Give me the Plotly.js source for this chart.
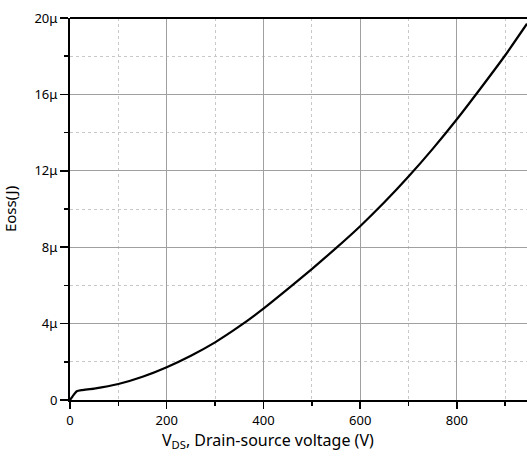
<!DOCTYPE html>
<html>
<head>
<meta charset="utf-8">
<script src="https://cdn.plot.ly/plotly-3.0.1.min.js"></script>
<style>html,body{margin:0;padding:0;background:#fff;}#chart{width:527px;height:456px;}</style>
</head>
<body>
<div id="chart"></div>
<script>
// Drain-source voltage (V)
const vds = [0, 5, 14, 25, 50, 100, 150, 200, 250, 300, 350, 400, 450, 500, 550, 600, 650, 700, 750, 800, 850, 900, 945];
// Eoss in microjoules
const eossMicro = [0, 0.18, 0.46, 0.52, 0.6, 0.84, 1.22, 1.72, 2.32, 3.02, 3.85, 4.78, 5.8, 6.85, 7.95, 9.1, 10.35, 11.7, 13.15, 14.7, 16.35, 18.05, 19.7];
const yTickVals = [0, 4e-6, 8e-6, 12e-6, 16e-6, 20e-6];
const yTickText = ["0", "4μ", "8μ", "12μ", "16μ", "20μ"];
const xTickVals = [0, 200, 400, 600, 800];
const xTickText = ["0", "200", "400", "600", "800"];

const eoss = eossMicro.map(v => v * 1e-6);
const font = "Noto Sans, Open Sans, sans-serif";

Plotly.newPlot("chart", [{
  x: vds, y: eoss, type: "scatter", mode: "lines",
  line: {color: "#000", width: 2.2, shape: "spline", smoothing: 0.5},
  hoverinfo: "skip"
}], {
  width: 527, height: 456,
  margin: {l: 70, r: 0, t: 18, b: 56},
  paper_bgcolor: "#fff", plot_bgcolor: "#fff",
  showlegend: false,
  font: {family: font, color: "#000", size: 13},
  xaxis: {
    range: [0, 945], tickvals: xTickVals, ticktext: xTickText,
    showline: true, linecolor: "#000", linewidth: 2,
    ticks: "outside", ticklen: 7, tickwidth: 1.5, tickcolor: "#000",
    showgrid: true, gridcolor: "#a0a0a0", gridwidth: 1,
    zeroline: false, tickfont: {size: 13, color: "#000"},
    minor: {dtick: 100, tick0: 0, ticks: "outside", ticklen: 4, tickwidth: 1.5, tickcolor: "#000",
            showgrid: true, gridcolor: "#c8c8c8", gridwidth: 1, griddash: "dot"}
  },
  yaxis: {
    range: [0, 20e-6], tickvals: yTickVals, ticktext: yTickText,
    showline: true, linecolor: "#000", linewidth: 2,
    ticks: "outside", ticklen: 8, tickwidth: 1.5, tickcolor: "#000",
    showgrid: true, gridcolor: "#a0a0a0", gridwidth: 1,
    zeroline: false, tickfont: {size: 13, color: "#000"},
    minor: {dtick: 2e-6, tick0: 0, ticks: "outside", ticklen: 4, tickwidth: 1.5, tickcolor: "#000",
            showgrid: true, gridcolor: "#c8c8c8", gridwidth: 1, griddash: "dot"},
    title: {text: "Eoss(J)", font: {size: 15, color: "#000"}, standoff: 14}
  },
  shapes: [{type: "line", xref: "paper", yref: "paper", x0: 0, x1: 1, y0: 1, y1: 1,
            line: {color: "#000", width: 2}}],
  annotations: [{
    text: "V<sub>DS</sub>, Drain-source voltage (V)", xref: "paper", yref: "paper",
    x: 0.433, y: 0, yshift: -40, xanchor: "center", yanchor: "middle",
    showarrow: false, font: {size: 16, family: font, color: "#000"}
  }]
}, {displayModeBar: false, staticPlot: true});
</script>
</body>
</html>
